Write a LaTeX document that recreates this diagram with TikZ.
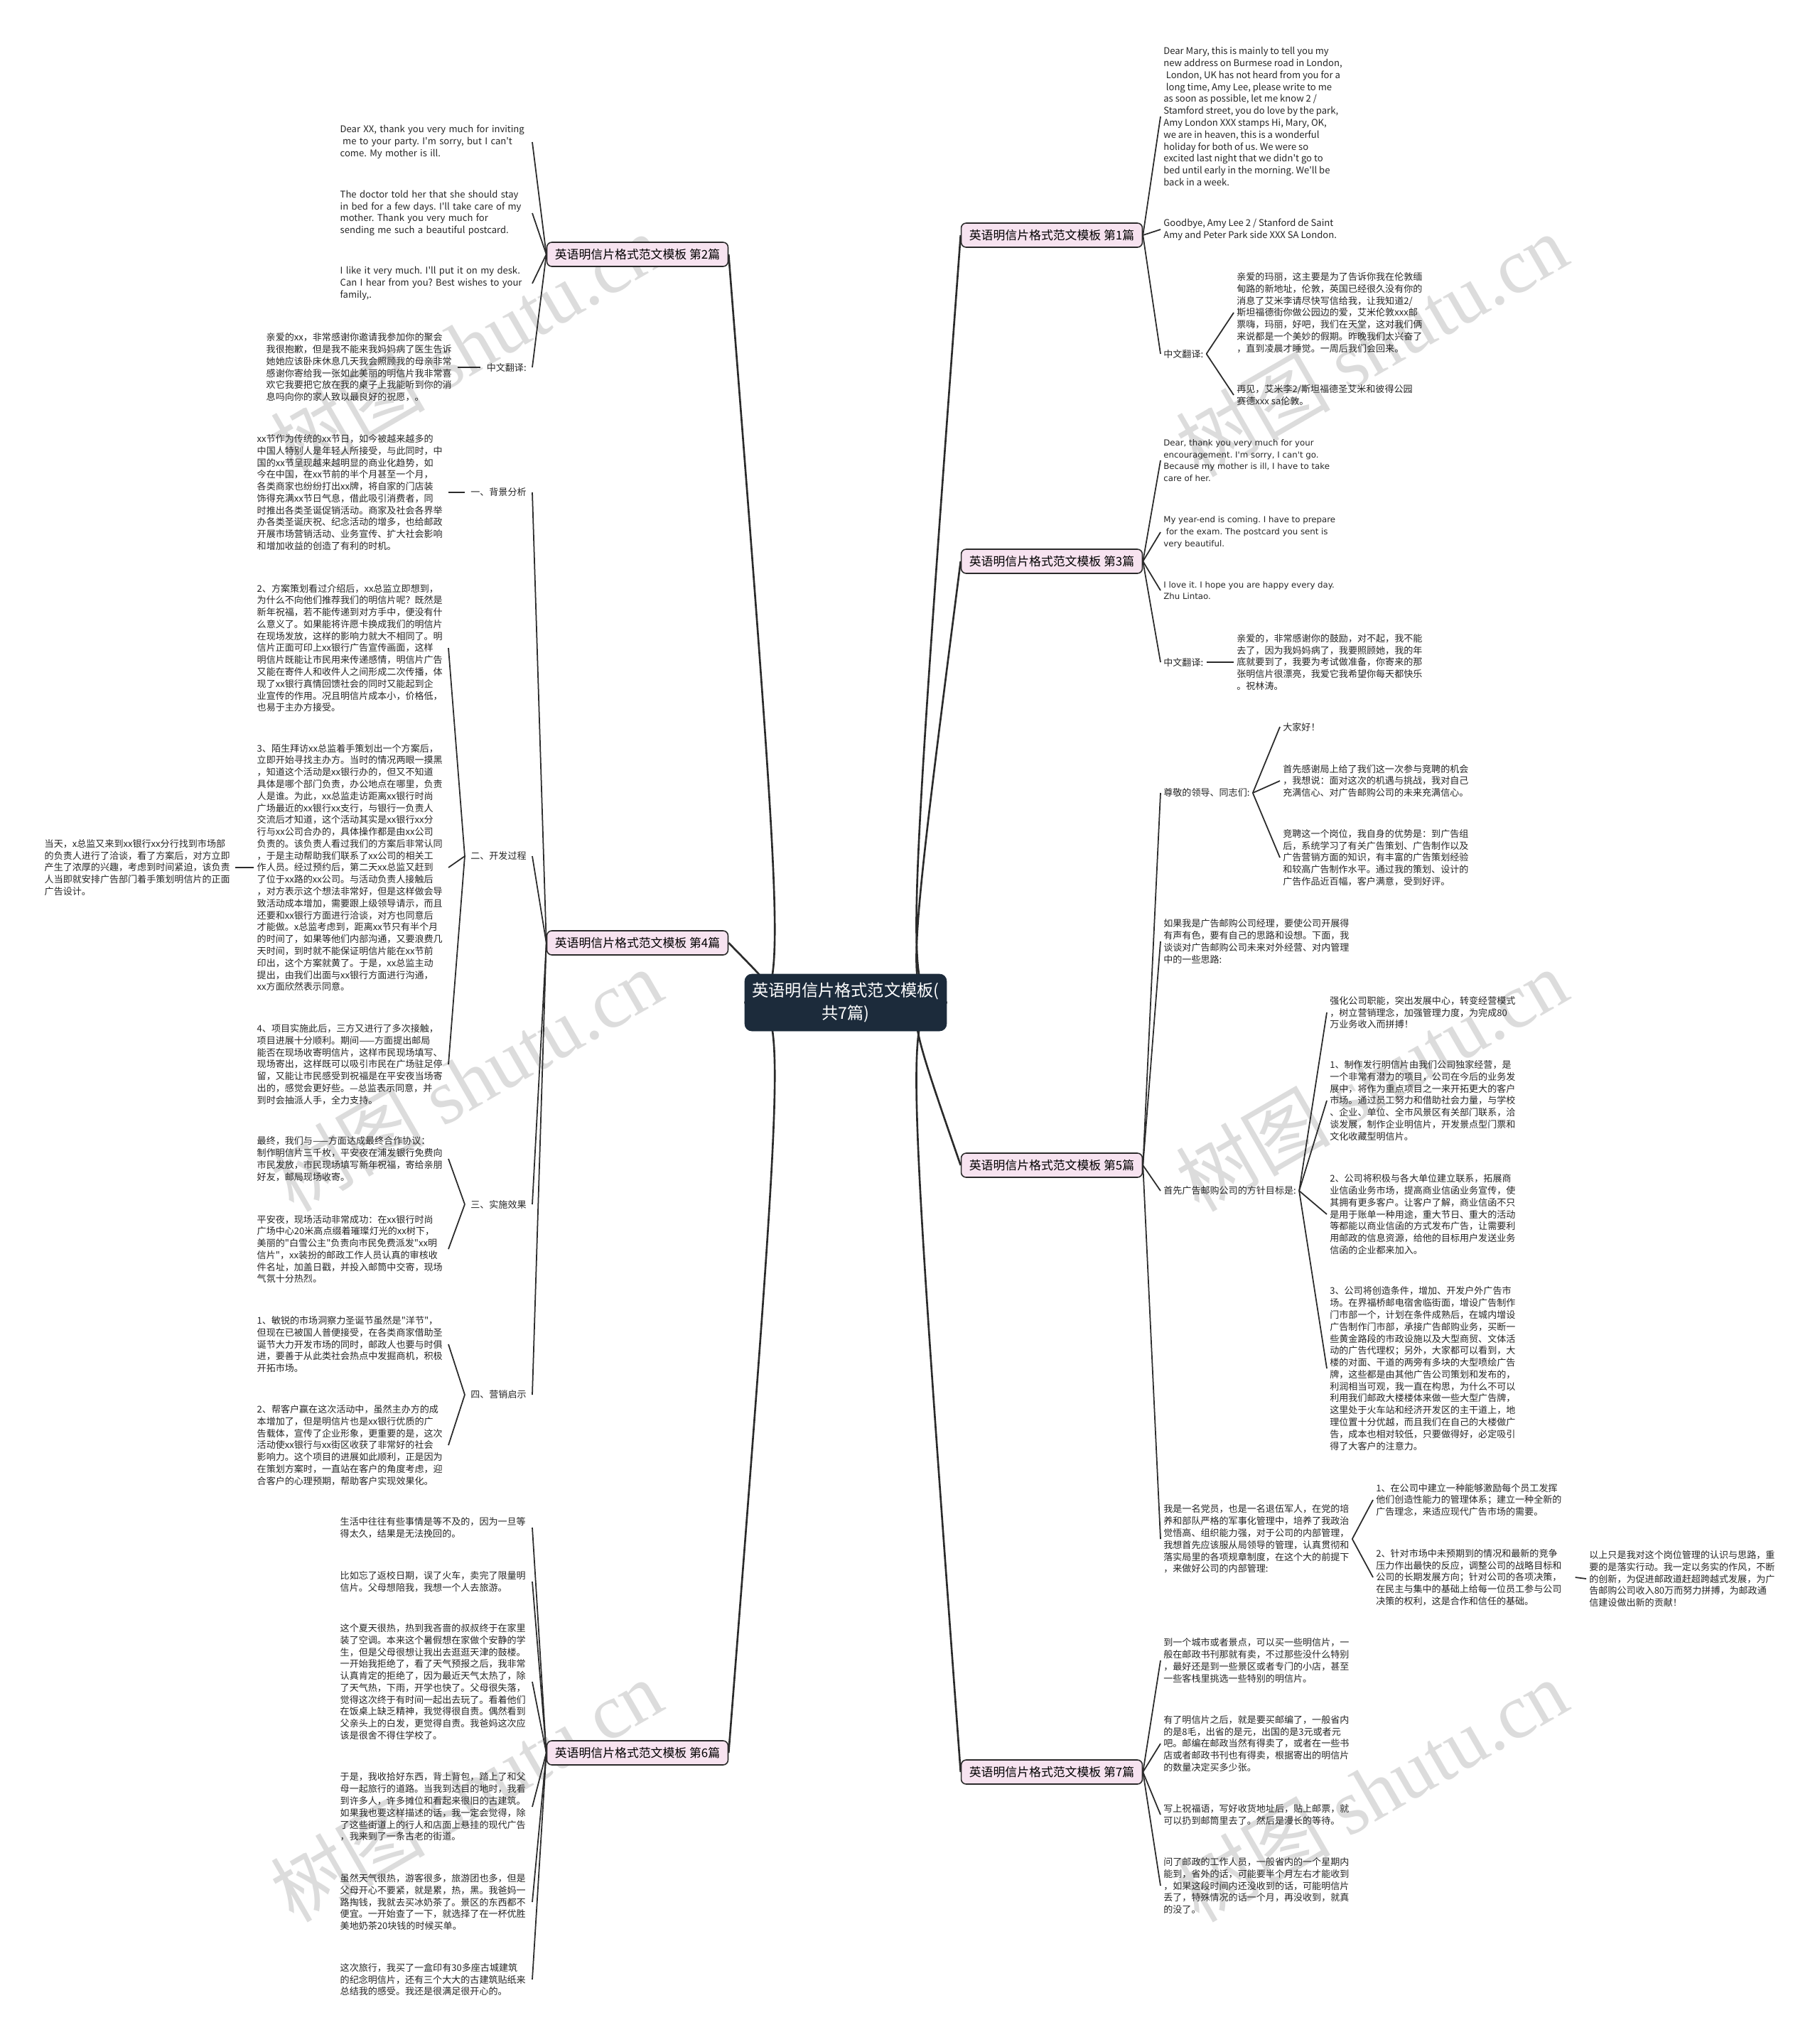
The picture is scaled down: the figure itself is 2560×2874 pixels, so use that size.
\documentclass[tikz,border=0pt]{standalone}
\usepackage{fontspec}
\newfontfamily\zh{Noto Sans CJK SC}
\newfontfamily\enthree{DejaVu Sans}
\newfontfamily\wmserif{Liberation Serif}
\usetikzlibrary{calc,backgrounds}
\definecolor{rootfill}{HTML}{1C2B3B}
\definecolor{branchfill}{HTML}{F7E3F0}
\definecolor{inkline}{HTML}{2B2B2B}
\definecolor{wmgray}{HTML}{DCDCDC}
\frenchspacing

\begin{document}
\begin{tikzpicture}[x=0.02cm, y=-0.02cm,
  root/.style={rectangle, rounded corners=0.2cm, fill=rootfill, draw=rootfill, text=white,
    font=\zh\fontsize{13.2}{18.7}\selectfont, align=center, minimum width=5.68cm, minimum height=1.6cm, inner sep=0pt},
  branch/.style={rectangle, rounded corners=0.14cm, fill=branchfill, draw=inkline, line width=0.9pt,
    font=\zh\fontsize{9.6}{11}\selectfont, minimum width=5.1cm, minimum height=0.68cm, inner sep=0pt},
  txt/.style={font=\zh\fontsize{7.43}{9.55}\selectfont, align=left, inner sep=0.08cm, text=black!85},
  rtxt/.style={txt, anchor=west},
  ltxt/.style={txt, anchor=east, text width=5.3cm},
  llbl/.style={txt, anchor=east, inner xsep=0.16cm},
  en3/.style={font=\enthree\fontsize{6.7}{9.55}\selectfont},
  wm/.style={text=wmgray, rotate=30, font=\zh\fontsize{62}{62}\selectfont, inner sep=0pt},
  link/.style={inkline, line width=1pt,
    to path={.. controls ($(\tikztostart)!0.5!(\tikztotarget)$ |- \tikztostart)
      and ($(\tikztostart)!0.5!(\tikztotarget)$ |- \tikztotarget) .. (\tikztotarget)}},
  rootR/.style={inkline, line width=1.5pt,
    to path={.. controls +(-60,0) and ($(\tikztostart)+(-60,0)$ |- \tikztotarget) .. (\tikztotarget)}},
  rootL/.style={inkline, line width=1.5pt,
    to path={.. controls +(60,0) and ($(\tikztostart)+(60,0)$ |- \tikztotarget) .. (\tikztotarget)}}]
\useasboundingbox (0,0) rectangle (2560,2874);
% root and the seven letters
\node[root] (root) at (1190,1411) {英语明信片格式范文模板(\\共7篇)};
\node[branch] (p1) at (1480,331) {英语明信片格式范文模板 第1篇};
\node[branch] (p3) at (1480,790) {英语明信片格式范文模板 第3篇};
\node[branch] (p5) at (1480,1640) {英语明信片格式范文模板 第5篇};
\node[branch] (p7) at (1480,2494) {英语明信片格式范文模板 第7篇};
\node[branch] (p2) at (897,358) {英语明信片格式范文模板 第2篇};
\node[branch] (p4) at (897,1327) {英语明信片格式范文模板 第4篇};
\node[branch] (p6) at (897,2467) {英语明信片格式范文模板 第6篇};

% letter 1
\node[rtxt] (p1a) at (1633,164) {Dear Mary, this is mainly to tell you my\\
new address on Burmese road in London,\\
\hspace*{2pt}London, UK has not heard from you for a\\
\hspace*{2pt}long time, Amy Lee, please write to me\\
as soon as possible, let me know 2 /\\
Stamford street, you do love by the park,\\
Amy London XXX stamps Hi, Mary, OK,\\
we are in heaven, this is a wonderful\\
holiday for both of us. We were so\\
excited last night that we didn't go to\\
bed until early in the morning. We'll be\\
back in a week.};
\node[rtxt] (p1b) at (1633,323) {Goodbye, Amy Lee 2 / Stanford de Saint\\
Amy and Peter Park side XXX SA London.};
\node[rtxt] (p1c) at (1633,498) {中文翻译:};
\node[rtxt] (p1c1) at (1736,440) {亲爱的玛丽，这主要是为了告诉你我在伦敦缅\\
甸路的新地址，伦敦，英国已经很久没有你的\\
消息了艾米李请尽快写信给我，让我知道2/\\
斯坦福德街你做公园边的爱，艾米伦敦xxx邮\\
票嗨，玛丽，好吧，我们在天堂，这对我们俩\\
来说都是一个美妙的假期。昨晚我们太兴奋了\\
，直到凌晨才睡觉。一周后我们会回来。};
\node[rtxt] (p1c2) at (1736,556) {再见，艾米李2/斯坦福德圣艾米和彼得公园\\
赛德xxx sa伦敦。};

% letter 3
\node[rtxt, en3] (p3a) at (1633,648) {Dear, thank you very much for your\\
encouragement. I'm sorry, I can't go.\\
Because my mother is ill, I have to take\\
care of her.};
\node[rtxt, en3] (p3b) at (1633,749) {My year-end is coming. I have to prepare\\
\hspace*{2pt}for the exam. The postcard you sent is\\
very beautiful.};
\node[rtxt, en3] (p3c) at (1633,831) {I love it. I hope you are happy every day.\\
Zhu Lintao.};
\node[rtxt] (p3d) at (1633,932) {中文翻译:};
\node[rtxt] (p3d1) at (1736,932) {亲爱的，非常感谢你的鼓励，对不起，我不能\\
去了，因为我妈妈病了，我要照顾她，我的年\\
底就要到了，我要为考试做准备，你寄来的那\\
张明信片很漂亮，我爱它我希望你每天都快乐\\
。祝林涛。};

% letter 5
\node[rtxt] (p5e) at (1633,1116) {尊敬的领导、同志们:};
\node[rtxt] (p5e1) at (1801,1023) {大家好！};
\node[rtxt] (p5e2) at (1801,1099) {首先感谢局上给了我们这一次参与竞聘的机会\\
，我想说：面对这次的机遇与挑战，我对自己\\
充满信心、对广告邮购公司的未来充满信心。};
\node[rtxt] (p5e3) at (1801,1207) {竞聘这一个岗位，我自身的优势是：到广告组\\
后，系统学习了有关广告策划、广告制作以及\\
广告营销方面的知识，有丰富的广告策划经验\\
和较高广告制作水平。通过我的策划、设计的\\
广告作品近百幅，客户满意，受到好评。};
\node[rtxt] (p5f) at (1633,1325) {如果我是广告邮购公司经理，要使公司开展得\\
有声有色，要有自己的思路和设想。下面，我\\
谈谈对广告邮购公司未来对外经营、对内管理\\
中的一些思路:};
\node[rtxt] (p5g) at (1633,1676) {首先广告邮购公司的方针目标是:};
\node[rtxt] (p5g1) at (1867,1425) {强化公司职能，突出发展中心，转变经营模式\\
，树立营销理念，加强管理力度，为完成80\\
万业务收入而拼搏！};
\node[rtxt] (p5g2) at (1867,1549) {1、制作发行明信片由我们公司独家经营，是\\
一个非常有潜力的项目，公司在今后的业务发\\
展中，将作为重点项目之一来开拓更大的客户\\
市场。通过员工努力和借助社会力量，与学校\\
、企业、单位、全市风景区有关部门联系，洽\\
谈发展，制作企业明信片，开发景点型门票和\\
文化收藏型明信片。};
\node[rtxt] (p5g3) at (1867,1709) {2、公司将积极与各大单位建立联系，拓展商\\
业信函业务市场，提高商业信函业务宣传，使\\
其拥有更多客户。让客户了解，商业信函不只\\
是用于账单一种用途，重大节日、重大的活动\\
等都能以商业信函的方式发布广告，让需要利\\
用邮政的信息资源，给他的目标用户发送业务\\
信函的企业都来加入。};
\node[rtxt] (p5g4) at (1867,1926) {3、公司将创造条件，增加、开发户外广告市\\
场。在界福桥邮电宿舍临街面，增设广告制作\\
门市部一个，计划在条件成熟后，在城内增设\\
广告制作门市部，承接广告邮购业务，买断一\\
些黄金路段的市政设施以及大型商贸、文体活\\
动的广告代理权；另外，大家都可以看到，大\\
楼的对面、干道的两旁有多块的大型喷绘广告\\
牌，这些都是由其他广告公司策划和发布的，\\
利润相当可观，我一直在构思，为什么不可以\\
利用我们邮政大楼楼体来做一些大型广告牌，\\
这里处于火车站和经济开发区的主干道上，地\\
理位置十分优越，而且我们在自己的大楼做广\\
告，成本也相对较低，只要做得好，必定吸引\\
得了大客户的注意力。};
\node[rtxt] (p5h) at (1633,2166) {我是一名党员，也是一名退伍军人，在党的培\\
养和部队严格的军事化管理中，培养了我政治\\
觉悟高、组织能力强，对于公司的内部管理，\\
我想首先应该服从局领导的管理，认真贯彻和\\
落实局里的各项规章制度，在这个大的前提下\\
，来做好公司的内部管理:};
\node[rtxt] (p5h1) at (1932,2111) {1、在公司中建立一种能够激励每个员工发挥\\
他们创造性能力的管理体系；建立一种全新的\\
广告理念，来适应现代广告市场的需要。};
\node[rtxt, text width=5.52cm] (p5h2) at (1932,2220) {2、针对市场中未预期到的情况和最新的竞争\\
压力作出最快的反应，调整公司的战略目标和\\
公司的长期发展方向；针对公司的各项决策，\\
在民主与集中的基础上给每一位员工参与公司\\
决策的权利，这是合作和信任的基础。};
\node[rtxt] (p5h3) at (2232,2222) {以上只是我对这个岗位管理的认识与思路，重\\
要的是落实行动。我一定以务实的作风，不断\\
的创新，为促进邮政道赶超跨越式发展，为广\\
告邮购公司收入80万而努力拼搏，为邮政通\\
信建设做出新的贡献！};

% letter 7
\node[rtxt] (p7a) at (1633,2337) {到一个城市或者景点，可以买一些明信片，一\\
般在邮政书刊那就有卖，不过那些没什么特别\\
，最好还是到一些景区或者专门的小店，甚至\\
一些客栈里挑选一些特别的明信片。};
\node[rtxt] (p7b) at (1633,2454) {有了明信片之后，就是要买邮编了，一般省内\\
的是8毛，出省的是元，出国的是3元或者元\\
吧。邮编在邮政当然有得卖了，或者在一些书\\
店或者邮政书刊也有得卖，根据寄出的明信片\\
的数量决定买多少张。};
\node[rtxt] (p7c) at (1633,2554) {写上祝福语，写好收货地址后，贴上邮票，就\\
可以扔到邮筒里去了。然后是漫长的等待。};
\node[rtxt] (p7d) at (1633,2654) {问了邮政的工作人员，一般省内的一个星期内\\
能到，省外的话，可能要半个月左右才能收到\\
，如果这段时间内还没收到的话，可能明信片\\
丢了，特殊情况的话一个月，再没收到，就真\\
的没了。};

% letter 2
\node[ltxt, text width=5.32cm] (p2a) at (749,200) {Dear XX, thank you very much for inviting\\
\hspace*{2pt}me to your party. I'm sorry, but I can't\\
come. My mother is ill.};
\node[ltxt, text width=5.32cm] (p2b) at (749,300) {The doctor told her that she should stay\\
in bed for a few days. I'll take care of my\\
mother. Thank you very much for\\
sending me such a beautiful postcard.};
\node[ltxt, text width=5.32cm] (p2c) at (749,399) {I like it very much. I'll put it on my desk.\\
Can I hear from you? Best wishes to your\\
family,.};
\node[llbl] (p2d) at (749,517) {中文翻译:};
\node[ltxt] (p2d1) at (644,517) {亲爱的xx，非常感谢你邀请我参加你的聚会\\
我很抱歉，但是我不能来我妈妈病了医生告诉\\
她她应该卧床休息几天我会照顾我的母亲非常\\
感谢你寄给我一张如此美丽的明信片我非常喜\\
欢它我要把它放在我的桌子上我能听到你的消\\
息吗向你的家人致以最良好的祝愿，。};

% letter 4
\node[llbl] (p4e) at (749,693) {一、背景分析};
\node[ltxt] (p4e1) at (631,693) {xx节作为传统的xx节日，如今被越来越多的\\
中国人特别人是年轻人所接受，与此同时，中\\
国的xx节呈现越来越明显的商业化趋势，如\\
今在中国，在xx节前的半个月甚至一个月，\\
各类商家也纷纷打出xx牌，将自家的门店装\\
饰得充满xx节日气息，借此吸引消费者，同\\
时推出各类圣诞促销活动。商家及社会各界举\\
办各类圣诞庆祝、纪念活动的增多，也给邮政\\
开展市场营销活动、业务宣传、扩大社会影响\\
和增加收益的创造了有利的时机。};
\node[llbl] (p4f) at (749,1205) {二、开发过程};
\node[ltxt] (p4f1) at (631,912) {2、方案策划看过介绍后，xx总监立即想到，\\
为什么不向他们推荐我们的明信片呢？既然是\\
新年祝福，若不能传递到对方手中，便没有什\\
么意义了。如果能将许愿卡换成我们的明信片\\
在现场发放，这样的影响力就大不相同了。明\\
信片正面可印上xx银行广告宣传画面，这样\\
明信片既能让市民用来传递感情，明信片广告\\
又能在寄件人和收件人之间形成二次传播，体\\
现了xx银行真情回馈社会的同时又能起到企\\
业宣传的作用。况且明信片成本小，价格低，\\
也易于主办方接受。};
\node[ltxt] (p4f2) at (631,1221) {3、陌生拜访xx总监着手策划出一个方案后，\\
立即开始寻找主办方。当时的情况两眼一摸黑\\
，知道这个活动是xx银行办的，但又不知道\\
具体是哪个部门负责，办公地点在哪里，负责\\
人是谁。为此，xx总监走访距离xx银行时尚\\
广场最近的xx银行xx支行，与银行一负责人\\
交流后才知道，这个活动其实是xx银行xx分\\
行与xx公司合办的，具体操作都是由xx公司\\
负责的。该负责人看过我们的方案后非常认同\\
，于是主动帮助我们联系了xx公司的相关工\\
作人员。经过预约后，第二天xx总监又赶到\\
了位于xx路的xx公司。与活动负责人接触后\\
，对方表示这个想法非常好，但是这样做会导\\
致活动成本增加，需要跟上级领导请示，而且\\
还要和xx银行方面进行洽谈，对方也同意后\\
才能做。x总监考虑到，距离xx节只有半个月\\
的时间了，如果等他们内部沟通，又要浪费几\\
天时间，到时就不能保证明信片能在xx节前\\
印出，这个方案就黄了。于是，xx总监主动\\
提出，由我们出面与xx银行方面进行沟通，\\
xx方面欣然表示同意。};
\node[ltxt, text width=5.28cm] (p4f4) at (331,1221) {当天，x总监又来到xx银行xx分行找到市场部\\
的负责人进行了洽谈，看了方案后，对方立即\\
产生了浓厚的兴趣，考虑到时间紧迫，该负责\\
人当即就安排广告部门着手策划明信片的正面\\
广告设计。};
\node[ltxt] (p4f3) at (631,1498) {4、项目实施此后，三方又进行了多次接触，\\
项目进展十分顺利。期间——方面提出邮局\\
能否在现场收寄明信片，这样市民现场填写、\\
现场寄出，这样既可以吸引市民在广场驻足停\\
留，又能让市民感受到祝福是在平安夜当场寄\\
出的，感觉会更好些。—总监表示同意，并\\
到时会抽派人手，全力支持。};
\node[llbl] (p4g) at (749,1695) {三、实施效果};
\node[ltxt] (p4g1) at (631,1631) {最终，我们与——方面达成最终合作协议：\\
制作明信片三千枚，平安夜在浦发银行免费向\\
市民发放，市民现场填写新年祝福，寄给亲朋\\
好友，邮局现场收寄。};
\node[ltxt] (p4g2) at (631,1758) {平安夜，现场活动非常成功：在xx银行时尚\\
广场中心20米高点缀着璀璨灯光的xx树下，\\
美丽的"白雪公主"负责向市民免费派发"xx明\\
信片"，xx装扮的邮政工作人员认真的审核收\\
件名址，加盖日戳，并投入邮筒中交寄，现场\\
气氛十分热烈。};
\node[llbl] (p4h) at (749,1963) {四、营销启示};
\node[ltxt] (p4h1) at (631,1892) {1、敏锐的市场洞察力圣诞节虽然是"洋节"，\\
但现在已被国人普便接受，在各类商家借助圣\\
诞节大力开发市场的同时，邮政人也要与时俱\\
进，要善于从此类社会热点中发掘商机，积极\\
开拓市场。};
\node[ltxt] (p4h2) at (631,2034) {2、帮客户赢在这次活动中，虽然主办方的成\\
本增加了，但是明信片也是xx银行优质的广\\
告载体，宣传了企业形象，更重要的是，这次\\
活动使xx银行与xx街区收获了非常好的社会\\
影响力。这个项目的进展如此顺利，正是因为\\
在策划方案时，一直站在客户的角度考虑，迎\\
合客户的心理预期，帮助客户实现效果化。};

% letter 6
\node[ltxt, text width=5.32cm] (p6a) at (749,2150) {生活中往往有些事情是等不及的，因为一旦等\\
得太久，结果是无法挽回的。};
\node[ltxt, text width=5.32cm] (p6b) at (749,2226) {比如忘了返校日期，误了火车，卖完了限量明\\
信片。父母想陪我，我想一个人去旅游。};
\node[ltxt, text width=5.32cm] (p6c) at (749,2367) {这个夏天很热，热到我吝啬的叔叔终于在家里\\
装了空调。本来这个暑假想在家做个安静的学\\
生，但是父母很想让我出去逛逛天津的鼓楼。\\
一开始我拒绝了，看了天气预报之后，我非常\\
认真肯定的拒绝了，因为最近天气太热了，除\\
了天气热，下雨，开学也快了。父母很失落，\\
觉得这次终于有时间一起出去玩了。看着他们\\
在饭桌上缺乏精神，我觉得很自责。偶然看到\\
父亲头上的白发，更觉得自责。我爸妈这次应\\
该是很舍不得住学校了。};
\node[ltxt, text width=5.32cm] (p6d) at (749,2543) {于是，我收拾好东西，背上背包，踏上了和父\\
母一起旅行的道路。当我到达目的地时，我看\\
到许多人，许多摊位和看起来很旧的古建筑。\\
如果我也要这样描述的话，我一定会觉得，除\\
了这些街道上的行人和店面上悬挂的现代广告\\
，我来到了一条古老的街道。};
\node[ltxt, text width=5.32cm] (p6e) at (749,2677) {虽然天气很热，游客很多，旅游团也多，但是\\
父母开心不要紧，就是累，热，黑。我爸妈一\\
路掏钱，我就去买冰奶茶了。景区的东西都不\\
便宜。一开始查了一下，就选择了在一杯优胜\\
美地奶茶20块钱的时候买单。};
\node[ltxt, text width=5.32cm] (p6f) at (749,2786) {这次旅行，我买了一盒印有30多座古城建筑\\
的纪念明信片，还有三个大大的古建筑贴纸来\\
总结我的感受。我还是很满足很开心的。};

\begin{scope}[on background layer]
\fill[white] (0,0) rectangle (2560,2874);
% watermarks
\node[wm] (wm1) at (656,486) {树图 {\wmserif shutu.cn}};
\node[wm] (wm2) at (656,1520) {树图 {\wmserif shutu.cn}};
\node[wm] (wm3) at (656,2520) {树图 {\wmserif shutu.cn}};
\node[wm] (wm4) at (1930,486) {树图 {\wmserif shutu.cn}};
\node[wm] (wm5) at (1930,1520) {树图 {\wmserif shutu.cn}};
\node[wm] (wm6) at (1930,2520) {树图 {\wmserif shutu.cn}};
% connectors
\foreach \b in {p1,p3,p5,p7} \draw[rootR] (root.east) to (\b.west);
\foreach \b in {p2,p4,p6} \draw[rootL] (root.west) to (\b.east);
\foreach \c in {p1a,p1b,p1c} \draw[link] (p1.east) to (\c.west);
\foreach \c in {p1c1,p1c2} \draw[link] (p1c.east) to (\c.west);
\foreach \c in {p3a,p3b,p3c,p3d} \draw[link] (p3.east) to (\c.west);
\draw[link] (p3d.east) to (p3d1.west);
\foreach \c in {p5e,p5f,p5g,p5h} \draw[link] (p5.east) to (\c.west);
\foreach \c in {p5e1,p5e2,p5e3} \draw[link] (p5e.east) to (\c.west);
\foreach \c in {p5g1,p5g2,p5g3,p5g4} \draw[link] (p5g.east) to (\c.west);
\foreach \c in {p5h1,p5h2} \draw[link] (p5h.east) to (\c.west);
\draw[link] (p5h2.east) to (p5h3.west);
\foreach \c in {p7a,p7b,p7c,p7d} \draw[link] (p7.east) to (\c.west);
\foreach \c in {p2a,p2b,p2c,p2d} \draw[link] (p2.west) to (\c.east);
\draw[link] (p2d.west) to (p2d1.east);
\foreach \c in {p4e,p4f,p4g,p4h} \draw[link] (p4.west) to (\c.east);
\draw[link] (p4e.west) to (p4e1.east);
\foreach \c in {p4f1,p4f2,p4f3} \draw[link] (p4f.west) to (\c.east);
\draw[link] (p4f2.west) to (p4f4.east);
\foreach \c in {p4g1,p4g2} \draw[link] (p4g.west) to (\c.east);
\foreach \c in {p4h1,p4h2} \draw[link] (p4h.west) to (\c.east);
\foreach \c in {p6a,p6b,p6c,p6d,p6e,p6f} \draw[link] (p6.west) to (\c.east);
\end{scope}
\end{tikzpicture}
\end{document}
